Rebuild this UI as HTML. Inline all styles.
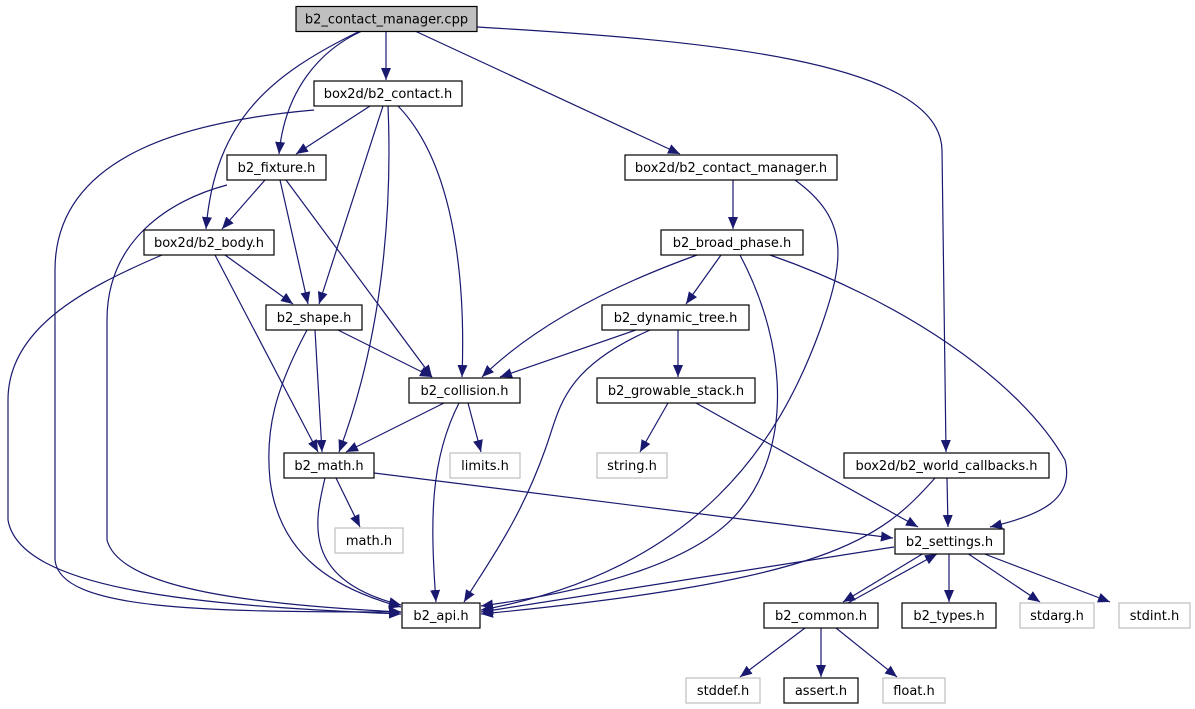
<!DOCTYPE html>
<html><head><meta charset="utf-8"><style>
html,body{margin:0;padding:0;background:#fff;}
svg{display:block;}
text{font-family:"DejaVu Sans","Liberation Sans",sans-serif;font-size:13px;fill:#000;}
</style></head><body>
<svg width="1195" height="709" viewBox="0 0 1195 709" xmlns="http://www.w3.org/2000/svg">
<defs>
<marker id="a" markerUnits="userSpaceOnUse" markerWidth="13" markerHeight="11" refX="12" refY="5.5" orient="auto">
<path d="M0,0.5 L12,5.5 L0,10.5 Z" fill="#191970"/>
</marker>
</defs>
<g fill="none" stroke="#191970" stroke-width="1.2" marker-end="url(#a)">
<path d="M386,31 L386,80"/>
<path d="M362,31 C320,50 285,90 279,154"/>
<path d="M360,31 C270,75 215,120 206,229"/>
<path d="M415,31 L680,154"/>
<path d="M477,27 C700,40 940,60 942,150 L946,452"/>
<path d="M370,106 L296,154"/>
<path d="M383,106 L319,304"/>
<path d="M388,106 C392,200 385,330 339,452"/>
<path d="M398,106 C460,170 465,300 462,377"/>
<path d="M314,110 C200,120 55,150 55,270 L55,560 C60,610 200,612 401,612"/>
<path d="M265,180 L222,229"/>
<path d="M280,180 L308,304"/>
<path d="M286,180 L432,377"/>
<path d="M227,185 C170,200 107,240 107,320 L107,540 C120,590 260,605 401,612"/>
<path d="M225,255 L293,304"/>
<path d="M215,255 L318,452"/>
<path d="M162,255 C80,290 8,330 8,400 L8,520 C20,590 200,606 401,614"/>
<path d="M338,330 L432,377"/>
<path d="M315,330 L322,452"/>
<path d="M307,330 C275,390 265,430 270,480 C280,560 340,590 401,607"/>
<path d="M444,403 L346,452"/>
<path d="M468,403 L481,452"/>
<path d="M459,403 C430,460 430,520 436,602"/>
<path d="M336,478 L360,527"/>
<path d="M325,478 C315,520 300,580 401,605"/>
<path d="M374,473 L893,538"/>
<path d="M733,180 L733,229"/>
<path d="M795,180 C850,220 845,260 820,330 C780,440 700,570 481,610"/>
<path d="M721,255 L686,304"/>
<path d="M697,255 C600,290 530,330 482,377"/>
<path d="M740,255 C790,350 790,450 740,510 C700,560 600,590 481,606"/>
<path d="M770,255 C900,300 1020,380 1065,460 C1075,500 1040,515 990,527"/>
<path d="M678,330 L678,377"/>
<path d="M636,330 L500,377"/>
<path d="M650,330 C560,370 560,410 545,450 C520,520 490,560 464,602"/>
<path d="M668,403 L640,452"/>
<path d="M696,403 L918,527"/>
<path d="M947,478 L948,527"/>
<path d="M935,478 C880,540 830,580 481,614"/>
<path d="M894,547 L481,612"/>
<path d="M924,553 L843,602"/>
<path d="M848,603 L937,554"/>
<path d="M949,553 L949,602"/>
<path d="M967,553 L1040,602"/>
<path d="M982,553 L1110,602"/>
<path d="M805,628 L740,677"/>
<path d="M821,628 L821,677"/>
<path d="M836,628 L897,677"/>
</g>
<g stroke-width="1.2">
<rect x="296" y="6.5" width="181" height="25" fill="#bfbfbf" stroke="#000"/>
<rect x="314" y="81" width="148" height="25" fill="#fff" stroke="#000"/>
<rect x="227" y="155" width="99" height="25" fill="#fff" stroke="#000"/>
<rect x="144" y="230" width="130" height="25" fill="#fff" stroke="#000"/>
<rect x="266" y="305" width="96" height="25" fill="#fff" stroke="#000"/>
<rect x="409" y="378" width="111" height="25" fill="#fff" stroke="#000"/>
<rect x="284" y="453" width="90" height="25" fill="#fff" stroke="#000"/>
<rect x="450" y="453" width="70" height="25" fill="#fff" stroke="#bfbfbf"/>
<rect x="335" y="528" width="68" height="25" fill="#fff" stroke="#bfbfbf"/>
<rect x="402" y="603" width="78" height="25" fill="#fff" stroke="#000"/>
<rect x="625" y="155" width="212" height="25" fill="#fff" stroke="#000"/>
<rect x="661" y="230" width="142" height="25" fill="#fff" stroke="#000"/>
<rect x="602" y="305" width="147" height="25" fill="#fff" stroke="#000"/>
<rect x="597" y="378" width="158" height="25" fill="#fff" stroke="#000"/>
<rect x="597" y="453" width="70" height="25" fill="#fff" stroke="#bfbfbf"/>
<rect x="844" y="453" width="205" height="25" fill="#fff" stroke="#000"/>
<rect x="895" y="529" width="109" height="25" fill="#fff" stroke="#000"/>
<rect x="764" y="603" width="114" height="25" fill="#fff" stroke="#000"/>
<rect x="902" y="603" width="94" height="25" fill="#fff" stroke="#000"/>
<rect x="1020" y="603" width="74" height="25" fill="#fff" stroke="#bfbfbf"/>
<rect x="1119" y="603" width="71" height="25" fill="#fff" stroke="#bfbfbf"/>
<rect x="686" y="678" width="74" height="25" fill="#fff" stroke="#bfbfbf"/>
<rect x="784" y="678" width="74" height="25" fill="#fff" stroke="#000"/>
<rect x="883" y="678" width="62" height="25" fill="#fff" stroke="#bfbfbf"/>
</g>
<g text-anchor="middle">
<text x="386.5" y="23.5">b2_contact_manager.cpp</text>
<text x="388" y="98">box2d/b2_contact.h</text>
<text x="276.5" y="172">b2_fixture.h</text>
<text x="209" y="247">box2d/b2_body.h</text>
<text x="314" y="322">b2_shape.h</text>
<text x="464.5" y="395">b2_collision.h</text>
<text x="329" y="470">b2_math.h</text>
<text x="485" y="470">limits.h</text>
<text x="369" y="545">math.h</text>
<text x="441" y="620">b2_api.h</text>
<text x="731" y="172">box2d/b2_contact_manager.h</text>
<text x="732" y="247">b2_broad_phase.h</text>
<text x="675.5" y="322">b2_dynamic_tree.h</text>
<text x="676" y="395">b2_growable_stack.h</text>
<text x="632" y="470">string.h</text>
<text x="946.5" y="470">box2d/b2_world_callbacks.h</text>
<text x="949.5" y="546">b2_settings.h</text>
<text x="821" y="620">b2_common.h</text>
<text x="949" y="620">b2_types.h</text>
<text x="1057" y="620">stdarg.h</text>
<text x="1154.5" y="620">stdint.h</text>
<text x="723" y="695">stddef.h</text>
<text x="821" y="695">assert.h</text>
<text x="914" y="695">float.h</text>
</g>
</svg>
</body></html>
